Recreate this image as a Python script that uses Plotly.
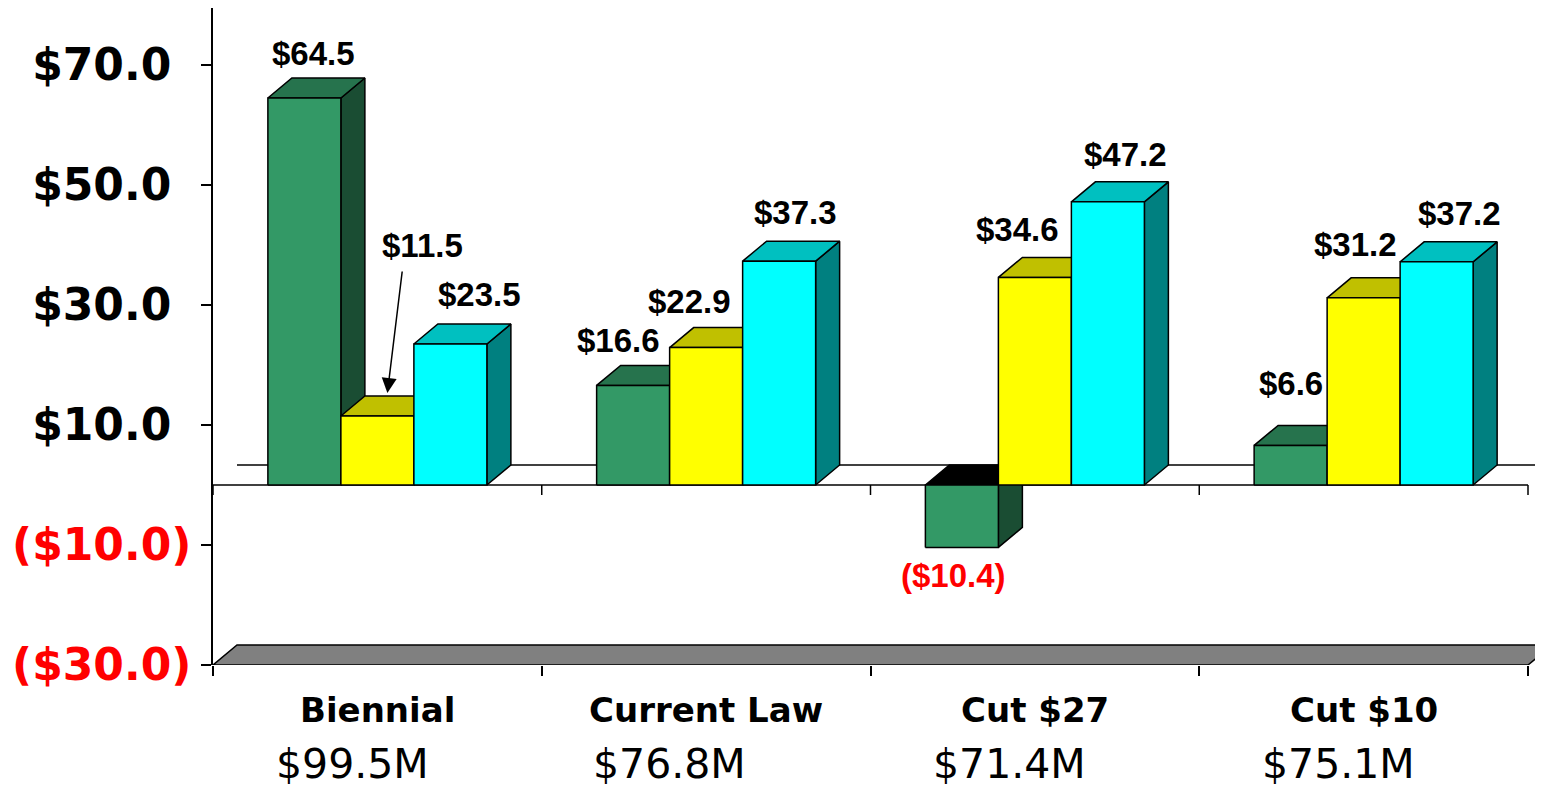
import plotly.graph_objects as go

CATEGORIES = ["Biennial", "Current Law", "Cut $27", "Cut $10"]
TOTALS = ["$99.5M", "$76.8M", "$71.4M", "$75.1M"]
SERIES_GREEN = [64.5, 16.6, -10.4, 6.6]
SERIES_YELLOW = [11.5, 22.9, 34.6, 31.2]
SERIES_CYAN = [23.5, 37.3, 47.2, 37.2]
Y_TICKS = [-30, -10, 10, 30, 50, 70]

SERIES = [SERIES_GREEN, SERIES_YELLOW, SERIES_CYAN]
FRONT = ["#339966", "#FFFF00", "#00FFFF"]
TOP = ["#26734D", "#C0C000", "#00C0C0"]
SIDE = ["#1A4D33", "#808000", "#008080"]

# geometry (the page body adds an 8px offset, so the figure is 8px smaller)
W, H = 1535, 783
M_L, M_R, M_T, M_B = 205, 0, 0, 126
PX_X = 328.75          # pixels per category
PX_Y = 6.0             # pixels per $1
X_RANGE = [-0.5, -0.5 + (W - M_L - M_R) / PX_X]
Y_RANGE = [-30, -30 + (H - M_T - M_B) / PX_Y]
DX = 24 / PX_X         # 3d depth offset
DY = 20 / PX_Y
BAR_W = 73 / PX_X
TICK = 10 / PX_Y

# label nudges (xshift px, gap px above the back top edge), None = arrow label
LABEL_NUDGE = [
    [(9, 25), None, (29, 30)],
    [(-15, 25), (-17, 26), (16, 29)],
    [(-8, 28), (-17, 28), (18, 27)],
    [(0, 42), (-8, 33), (23, 28)],
]
TOTAL_SHIFT = [-25, -37, -25, -25]

EDGE = dict(color="black", width=1.5)
LABEL_FAMILY = "Liberation Sans, Arial, sans-serif"


def money(v):
    return f"${v:.1f}" if v >= 0 else f"(${-v:.1f})"


def poly_trace(polys, color):
    xs, ys = [], []
    for p in polys:
        xs += [pt[0] for pt in p] + [p[0][0], None]
        ys += [pt[1] for pt in p] + [p[0][1], None]
    return go.Scatter(x=xs, y=ys, mode="lines", fill="toself", fillcolor=color,
                      line=EDGE, hoverinfo="skip", showlegend=False)


def line_trace(xs, ys):
    return go.Scatter(x=xs, y=ys, mode="lines", line=EDGE, hoverinfo="skip", showlegend=False)


boundaries = [-0.5, 0.5, 1.5, 2.5, 3.5]

fig = go.Figure()

# back wall base line
fig.add_trace(line_trace([-0.5 + DX, X_RANGE[1] + 1], [DY, DY]))
# floor
fig.add_trace(poly_trace([[(-0.5, Y_RANGE[0]), (3.5, Y_RANGE[0]),
                           (3.5 + DX, Y_RANGE[0] + DY), (-0.5 + DX, Y_RANGE[0] + DY)]], "#808080"))
# front zero line with its category ticks
tx, ty = [-0.5, 3.5, None], [0, 0, None]
for b in boundaries:
    tx += [b, b, None]
    ty += [0, -TICK, None]
fig.add_trace(line_trace(tx, ty))

annotations = []
for j, vals in enumerate(SERIES):
    sides, tops, tops_neg, fronts = [], [], [], []
    for i, v in enumerate(vals):
        x0 = i + (j - 1.5) * BAR_W
        x1 = x0 + BAR_W
        lo, hi = min(0, v), max(0, v)
        sides.append([(x1, lo), (x1 + DX, lo + DY), (x1 + DX, hi + DY), (x1, hi)])
        top = [(x0, hi), (x1, hi), (x1 + DX, hi + DY), (x0 + DX, hi + DY)]
        (tops_neg if v < 0 else tops).append(top)
        fronts.append([(x0, lo), (x1, lo), (x1, hi), (x0, hi)])

        xc = (x0 + x1) / 2
        nudge = LABEL_NUDGE[i][j]
        font = dict(family=LABEL_FAMILY, size=33, color="red" if v < 0 else "black", weight="bold")
        if nudge is None:
            # label placed up-left, with an arrow pointing down to the bar top
            annotations.append(dict(x=xc, y=v, xref="x", yref="y", text=money(v), font=font,
                                    showarrow=False, xshift=45, yshift=171, yanchor="middle"))
            annotations.append(dict(x=xc, y=v, xref="x", yref="y", text="", showarrow=True,
                                    arrowhead=2, arrowsize=2, arrowwidth=1.5, arrowcolor="black",
                                    ax=15, ay=-123, xshift=10, yshift=23))
        elif v >= 0:
            annotations.append(dict(x=xc, y=hi + DY, xref="x", yref="y", text=money(v), font=font,
                                    showarrow=False, xshift=nudge[0], yshift=nudge[1], yanchor="middle"))
        else:
            annotations.append(dict(x=xc, y=lo, xref="x", yref="y", text=money(v), font=font,
                                    showarrow=False, xshift=nudge[0], yshift=-nudge[1], yanchor="middle"))
    fig.add_trace(poly_trace(sides, SIDE[j]))
    fig.add_trace(poly_trace(tops, TOP[j]))
    if tops_neg:
        fig.add_trace(poly_trace(tops_neg, "#000000"))
    fig.add_trace(poly_trace(fronts, FRONT[j]))

for i, (cat, tot) in enumerate(zip(CATEGORIES, TOTALS)):
    annotations.append(dict(x=i, y=0, xref="x", yref="paper", text=cat, showarrow=False,
                            yanchor="middle", yshift=-45,
                            font=dict(family="DejaVu Sans", size=34, color="black", weight="bold")))
    annotations.append(dict(x=i, y=0, xref="x", yref="paper", text=tot, showarrow=False,
                            yanchor="bottom", yshift=-125, xshift=TOTAL_SHIFT[i],
                            font=dict(family="DejaVu Sans", size=41, color="black")))

tick_text = [
    f"<span style='color:red'>{money(t)}</span>" if t < 0
    else f"{money(t)}<span style='color:white'>)</span>"
    for t in Y_TICKS
]

fig.update_layout(
    width=W, height=H,
    margin=dict(l=M_L, r=M_R, t=M_T, b=M_B, autoexpand=False),
    paper_bgcolor="white", plot_bgcolor="white",
    showlegend=False,
    annotations=annotations,
    xaxis=dict(range=X_RANGE, showgrid=False, zeroline=False, showline=False,
               tickvals=boundaries, ticks="outside", ticklen=10, tickwidth=1.5,
               tickcolor="black", showticklabels=False, fixedrange=True, automargin=False),
    yaxis=dict(range=Y_RANGE, showgrid=False, zeroline=False, showline=True,
               linecolor="black", linewidth=1.5, tickvals=Y_TICKS, ticktext=tick_text,
               ticks="outside", ticklen=10, tickwidth=1.5, tickcolor="black",
               ticklabelstandoff=1, automargin=False,
               tickfont=dict(family="DejaVu Sans", size=44, color="black", weight="bold"),
               fixedrange=True),
)

fig.write_html("out.html")
